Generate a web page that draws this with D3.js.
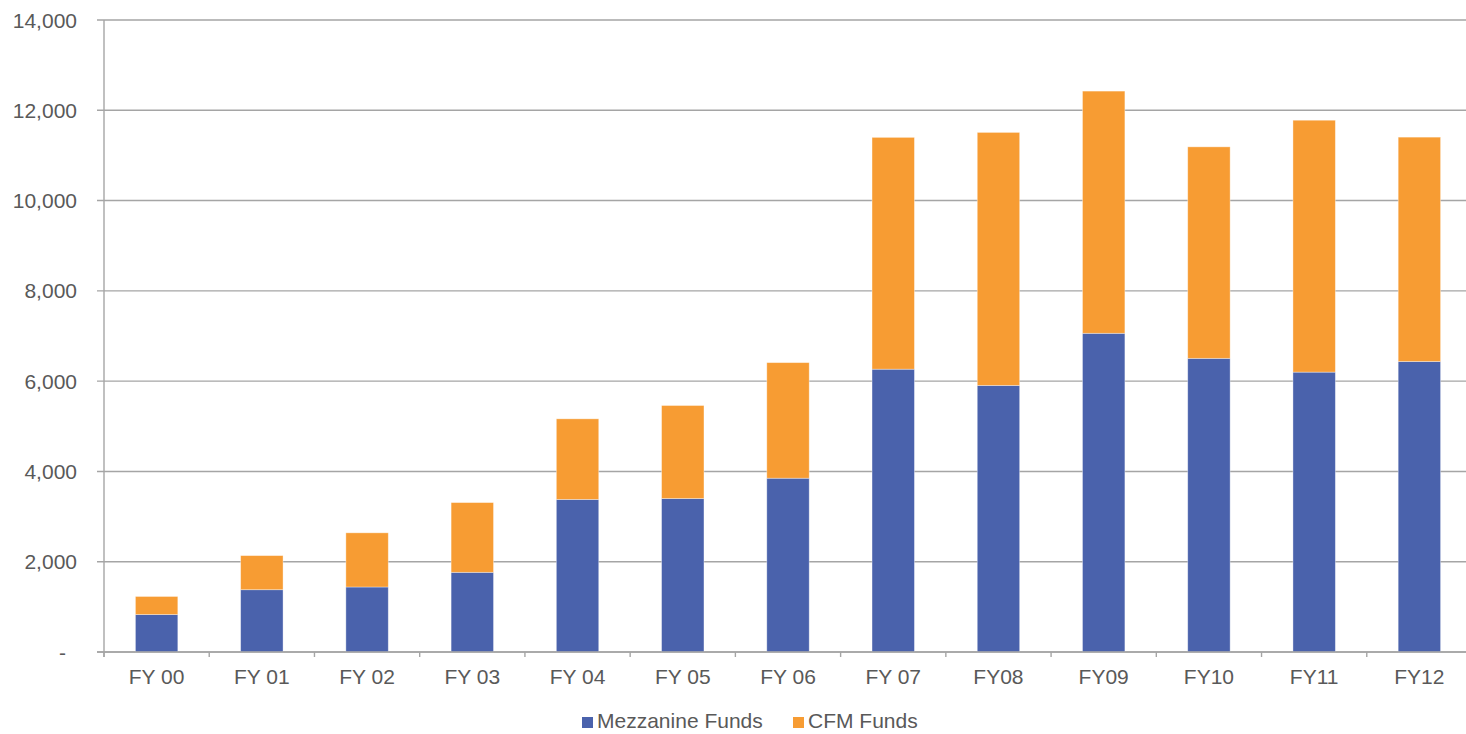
<!DOCTYPE html>
<html>
<head>
<meta charset="utf-8">
<script src="https://cdn.jsdelivr.net/npm/d3@7"></script>
<style>
  html, body { margin: 0; padding: 0; background: #fff; overflow: hidden; }
  svg { display: block; font-family: "Liberation Sans", Arial, sans-serif; }
</style>
</head>
<body>
<svg id="chart" width="1466" height="734"></svg>
<script>
// Fiscal years on the category axis
const categories = ["FY 00", "FY 01", "FY 02", "FY 03", "FY 04", "FY 05", "FY 06",
                    "FY 07", "FY08", "FY09", "FY10", "FY11", "FY12"];
// Stacked series (bottom to top)
const mezzanineFunds = [830, 1380, 1440, 1765, 3380, 3400, 3850, 6265, 5905, 7060, 6505, 6200, 6435];
const cfmFunds       = [400, 755, 1200, 1545, 1785, 2060, 2560, 5135, 5605, 5365, 4685, 5580, 4970];
const seriesNames = ["Mezzanine Funds", "CFM Funds"];
const seriesColors = ["#4A62AC", "#F79C33"];
const yTicks = [0, 2000, 4000, 6000, 8000, 10000, 12000, 14000];

const svg = d3.select("#chart");
const margin = { left: 104, top: 20, bottom: 652 };
const plotRight = 1472;
const textColor = "#595959";
const gridColor = "#A5A5A5";
const fontSize = 21;

const x = d3.scaleBand().domain(categories).range([margin.left, plotRight]).padding(0);
const y = d3.scaleLinear().domain([0, 14000]).range([margin.bottom, margin.top]);
const barW = x.bandwidth() * 0.403;

const rows = categories.map((c, i) => ({ cat: c, mezz: mezzanineFunds[i], cfm: cfmFunds[i] }));
const stacked = d3.stack().keys(["mezz", "cfm"])(rows);

// Horizontal gridlines with short outward ticks on the value axis
svg.append("g").selectAll("line.grid")
  .data(yTicks)
  .join("line")
  .attr("x1", margin.left - 7)
  .attr("x2", plotRight)
  .attr("y1", d => y(d))
  .attr("y2", d => y(d))
  .attr("stroke", gridColor)
  .attr("stroke-width", 1.4);

// Value axis labels
const fmt = d3.format(",");
svg.append("g").selectAll("text")
  .data(yTicks)
  .join("text")
  .attr("x", d => d === 0 ? 66 : 77)
  .attr("y", d => y(d) + 7.5)
  .attr("text-anchor", "end")
  .attr("fill", textColor)
  .attr("font-size", fontSize)
  .text(d => d === 0 ? "-" : fmt(d));

// Bars
const layers = svg.append("g").selectAll("g.layer")
  .data(stacked)
  .join("g")
  .attr("fill", (d, i) => seriesColors[i]);

layers.selectAll("rect")
  .data(d => d)
  .join("rect")
  .attr("x", d => x(d.data.cat) + (x.bandwidth() - barW) / 2)
  .attr("width", barW)
  .attr("y", d => y(d[1]))
  .attr("height", d => y(d[0]) - y(d[1]))
  .attr("stroke", "#ffffff")
  .attr("stroke-opacity", 0.45)
  .attr("stroke-width", 0.8);

// Value axis line
svg.append("line")
  .attr("x1", margin.left).attr("x2", margin.left)
  .attr("y1", margin.top).attr("y2", margin.bottom + 5)
  .attr("stroke", gridColor).attr("stroke-width", 1.4);

// Category axis line and tick marks at band boundaries
svg.append("line")
  .attr("x1", margin.left - 7).attr("x2", plotRight)
  .attr("y1", margin.bottom).attr("y2", margin.bottom)
  .attr("stroke", gridColor).attr("stroke-width", 1.4);

svg.append("g").selectAll("line")
  .data(categories)
  .join("line")
  .attr("x1", d => x(d)).attr("x2", d => x(d))
  .attr("y1", margin.bottom).attr("y2", margin.bottom + 5)
  .attr("stroke", gridColor).attr("stroke-width", 1.4);

// Category labels
svg.append("g").selectAll("text")
  .data(categories)
  .join("text")
  .attr("x", d => x(d) + x.bandwidth() / 2)
  .attr("y", 684)
  .attr("text-anchor", "middle")
  .attr("fill", textColor)
  .attr("font-size", fontSize)
  .text(d => d);

// Legend
const legendItems = [
  { name: seriesNames[0], color: seriesColors[0], x: 582 },
  { name: seriesNames[1], color: seriesColors[1], x: 793 }
];
const lg = svg.append("g").selectAll("g")
  .data(legendItems)
  .join("g")
  .attr("transform", d => `translate(${d.x},0)`);
lg.append("rect")
  .attr("x", 0).attr("y", 717)
  .attr("width", 11).attr("height", 11)
  .attr("fill", d => d.color);
lg.append("text")
  .attr("x", 15).attr("y", 728)
  .attr("fill", textColor)
  .attr("font-size", fontSize)
  .text(d => d.name);
</script>
</body>
</html>
